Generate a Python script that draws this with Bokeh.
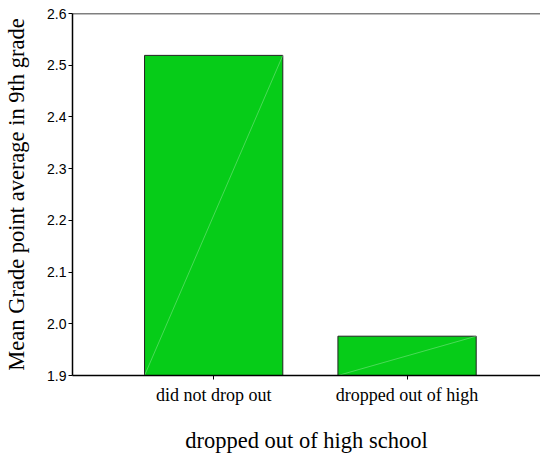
from bokeh.plotting import figure
from bokeh.models import Range1d, FixedTicker, Span, ColumnDataSource, PrintfTickFormatter
from bokeh.embed import file_html
from bokeh.resources import INLINE

categories = ["did not drop out", "dropped out of high"]
positions = [0.5, 1.5]
means = [2.519, 1.976]
y_ticks = [1.9, 2.0, 2.1, 2.2, 2.3, 2.4, 2.5, 2.6]
y_min, y_max = 1.9, 2.6
bar_width = 0.715

p = figure(width=540, height=455, output_backend="svg", toolbar_location=None,
           x_range=Range1d(-0.23, 2.19), y_range=Range1d(y_min, y_max),
           min_border_left=72, min_border_right=0, min_border_top=13, min_border_bottom=80)
p.outline_line_color = None
p.xgrid.visible = False
p.ygrid.visible = False

src = ColumnDataSource(dict(x=positions, top=means, bottom=[y_min] * len(means)))
p.vbar(x="x", top="top", bottom="bottom", width=bar_width, source=src,
       fill_color="#06cc18", line_color="#222222", line_width=1)

# faint diagonal seam inside bars
for xc, m in zip(positions, means):
    p.line([xc - bar_width / 2, xc + bar_width / 2], [y_min, m],
           line_color="white", line_alpha=0.35, line_width=0.8)

p.add_layout(Span(location=y_max, dimension="width", line_color="black", line_width=1.5))

for ax in (p.xaxis, p.yaxis):
    ax.axis_label_text_color = "black"
    ax.major_label_text_color = "black"
    ax.axis_line_color = "black"
    ax.major_tick_line_color = "black"

p.xaxis.ticker = FixedTicker(ticks=positions)
p.xaxis.major_label_overrides = {pos: c for pos, c in zip(positions, categories)}
p.xaxis.axis_label = "dropped out of high school"
p.xaxis.axis_label_text_font = "Liberation Serif"
p.xaxis.axis_label_text_font_size = "22.5px"
p.xaxis.axis_label_text_font_style = "normal"
p.xaxis.axis_label_standoff = 20
p.xaxis.major_label_text_font = "Liberation Serif"
p.xaxis.major_label_text_font_size = "18px"
p.xaxis.major_label_standoff = 5
p.xaxis.major_tick_in = 0
p.xaxis.major_tick_out = 4
p.xaxis.minor_tick_line_color = None
p.xaxis.axis_line_width = 1.5

p.yaxis.ticker = FixedTicker(ticks=y_ticks)
p.yaxis.formatter = PrintfTickFormatter(format="%.1f")
p.yaxis.axis_label = "Mean Grade point average in 9th grade"
p.yaxis.axis_label_text_font = "Liberation Serif"
p.yaxis.axis_label_text_font_size = "22.5px"
p.yaxis.axis_label_text_font_style = "normal"
p.yaxis.axis_label_standoff = 15
p.yaxis.major_label_text_font = "Liberation Sans"
p.yaxis.major_label_text_font_size = "14px"
p.yaxis.major_label_standoff = 2
p.yaxis.major_tick_in = 0
p.yaxis.major_tick_out = 4
p.yaxis.minor_tick_line_color = None
p.yaxis.axis_line_width = 1.5

open("out.html", "w").write(file_html(p, INLINE))
